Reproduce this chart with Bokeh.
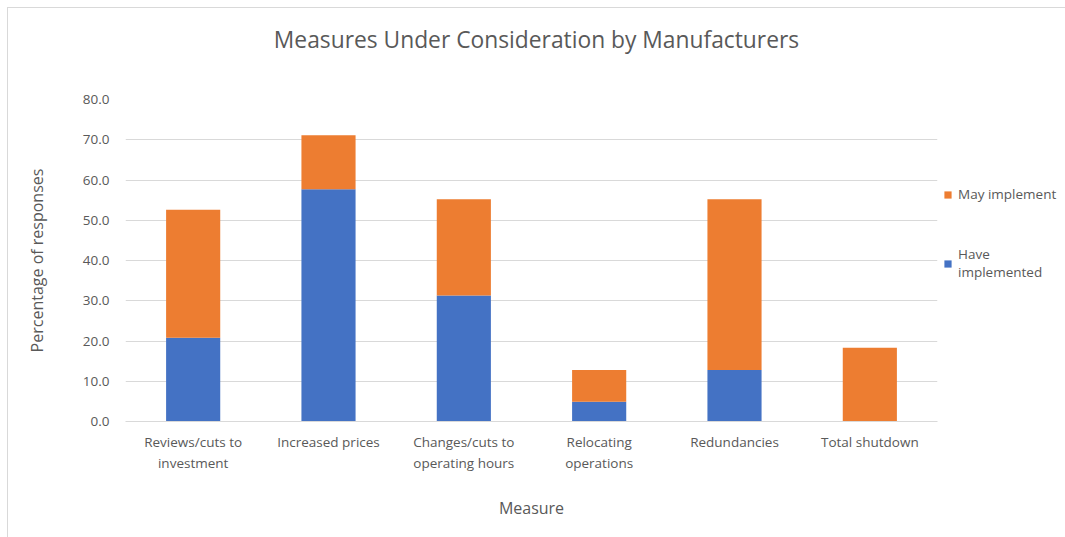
from bokeh.plotting import figure
from bokeh.layouts import column, row
from bokeh.models import (ColumnDataSource, FactorRange, Range1d, FixedTicker,
                          PrintfTickFormatter, Legend, LegendItem, Div)
from bokeh.embed import file_html
from bokeh.resources import INLINE

# Survey results: share of manufacturers taking each measure (%)
measures = ["Reviews/cuts to\ninvestment", "Increased prices", "Changes/cuts to\noperating hours",
            "Relocating\noperations", "Redundancies", "Total shutdown"]
have_implemented = [20.8, 57.7, 31.3, 4.9, 12.8, 0.0]
may_implement = [31.8, 13.4, 23.9, 7.9, 42.4, 18.3]
y_ticks = [0, 10, 20, 30, 40, 50, 60, 70, 80]
series_names = ["May implement", "Have\nimplemented"]
chart_title = "Measures Under Consideration by Manufacturers"

FONT = "Open Sans"
TEXT = "#595959"
GRID = "#D9D9D9"
BLUE = "#4472C4"
ORANGE = "#ED7D31"

# ---- title strip ----
title_div = Div(
    text=(f'<div style="width:1043px;text-align:center;padding-left:14px;padding-top:17px;'
          f'line-height:30px;font-size:22.8px;white-space:nowrap;'
          f'font-family:\'{FONT}\';color:{TEXT}">{chart_title}</div>'),
    width=1057, height=79, margin=(0, 0, 0, 0),
)

# ---- stacked bar chart ----
source = ColumnDataSource(dict(measure=measures, have=have_implemented, may=may_implement))

p = figure(
    width=933, height=450,
    x_range=FactorRange(*measures, range_padding=0.0),
    y_range=Range1d(0, 80),
    output_backend="svg", toolbar_location=None,
    min_border_left=117, min_border_right=4, min_border_top=12, min_border_bottom=116,
)
p.vbar_stack(["have", "may"], x="measure", width=0.4, source=source,
             color=[BLUE, ORANGE], line_color=None)

p.outline_line_color = None
p.background_fill_color = "white"
p.border_fill_color = "white"

p.xgrid.grid_line_color = None
p.ygrid.grid_line_color = GRID
p.ygrid.ticker = FixedTicker(ticks=y_ticks)

p.yaxis.ticker = FixedTicker(ticks=y_ticks)
p.yaxis.formatter = PrintfTickFormatter(format="%.1f")
p.yaxis.axis_line_color = None
p.yaxis.major_tick_line_color = None
p.yaxis.minor_tick_line_color = None
p.yaxis.major_label_standoff = 10
p.yaxis.axis_label = "Percentage of responses"
p.yaxis.axis_label_standoff = 32

p.xaxis.axis_line_color = GRID
p.xaxis.major_tick_line_color = None
p.xaxis.major_label_standoff = 5
p.xaxis.axis_label = "Measure"
p.xaxis.axis_label_standoff = 22

for ax in (p.xaxis[0], p.yaxis[0]):
    ax.major_label_text_font = FONT
    ax.major_label_text_font_size = "13.5px"
    ax.major_label_text_color = TEXT
    ax.axis_label_text_font = FONT
    ax.axis_label_text_font_size = "16px"
    ax.axis_label_text_font_style = "normal"
    ax.axis_label_text_color = TEXT

# ---- key panel to the right of the chart ----
# The same stacked series, kept hidden, so the legend can draw its swatches here.
lp = figure(
    width=124, height=450,
    x_range=FactorRange(*measures), y_range=Range1d(0, 80),
    output_backend="svg", toolbar_location=None,
    x_axis_location=None, y_axis_location=None,
    min_border=0,
)
lp.outline_line_color = None
lp.grid.visible = False
lp.border_fill_color = "white"
have_key, may_key = lp.vbar_stack(["have", "may"], x="measure", width=0.4, source=source,
                                  color=[BLUE, ORANGE], line_color=None, visible=False)

legend = Legend(
    items=[LegendItem(label=series_names[0], renderers=[may_key]),
           LegendItem(label=series_names[1], renderers=[have_key])],
    location=(2, 140),
    orientation="vertical",
    label_text_font=FONT, label_text_font_size="13.5px", label_text_color=TEXT,
    glyph_width=9, glyph_height=9, label_standoff=6,
    spacing=42, padding=0, margin=0,
    border_line_color=None, background_fill_alpha=0,
    inactive_fill_alpha=0,
)
lp.add_layout(legend, "center")

layout = column(title_div, row(p, lp, spacing=0), spacing=0)
layout.styles = {"margin-left": "7px", "margin-top": "7px",
                 "border-left": "1px solid #D9D9D9", "border-top": "1px solid #D9D9D9"}

open("out.html", "w").write(file_html(layout, INLINE))
